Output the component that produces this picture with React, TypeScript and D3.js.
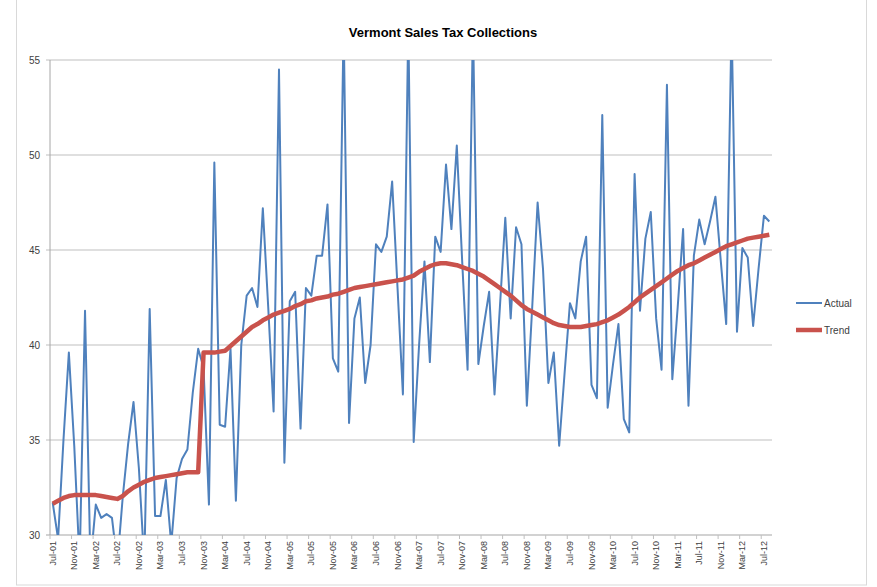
import React from 'react';
import * as d3 from 'd3';

// monthly collections, Jul-01 .. Aug-12 (values past 55 / under 30 are clipped like in Excel)
const actual = [
	31.7, 29.8, 35.0, 39.6, 34.7, 28.5, 41.8, 28.5, 31.6, 30.9, 31.1, 30.9, 28.5, 32.0, 34.8, 37.0,
	33.5, 28.5, 41.9, 31.0, 31.0, 32.9, 29.5, 33.0, 34.0, 34.5, 37.5, 39.8, 38.8, 31.6, 49.6, 35.8,
	35.7, 39.8, 31.8, 40.0, 42.6, 43.0, 42.0, 47.2, 42.0, 36.5, 54.5, 33.8, 42.3, 42.8, 35.6, 43.0,
	42.6, 44.7, 44.7, 47.4, 39.3, 38.6, 57.0, 35.9, 41.4, 42.5, 38.0, 40.0, 45.3, 44.9, 45.7, 48.6,
	43.0, 37.4, 57.0, 34.9, 40.0, 44.4, 39.1, 45.7, 44.9, 49.5, 46.1, 50.5, 44.4, 38.7, 57.0, 39.0,
	41.0, 42.8, 37.4, 42.0, 46.7, 41.4, 46.2, 45.3, 36.8, 42.0, 47.5, 44.0, 38.0, 39.6, 34.7, 38.5,
	42.2, 41.4, 44.4, 45.7, 37.9, 37.2, 52.1, 36.7, 39.0, 41.1, 36.1, 35.4, 49.0, 41.8, 45.6, 47.0,
	41.4, 38.7, 53.7, 38.2, 42.0, 46.1, 36.8, 44.7, 46.6, 45.3, 46.5, 47.8, 44.4, 41.1, 57.0, 40.7,
	45.1, 44.6, 41.0, 44.0, 46.8, 46.5,
];

const trend = [
	31.65, 31.8, 31.95, 32.05, 32.1, 32.1, 32.1, 32.1, 32.1, 32.05, 32.0, 31.95, 31.9, 32.05, 32.3, 32.5,
	32.65, 32.8, 32.9, 33.0, 33.05, 33.1, 33.15, 33.2, 33.25, 33.3, 33.3, 33.3, 39.6, 39.6, 39.6, 39.65,
	39.7, 39.95, 40.2, 40.45, 40.7, 40.95, 41.1, 41.3, 41.45, 41.6, 41.7, 41.8, 41.9, 42.05, 42.15, 42.3,
	42.35, 42.45, 42.5, 42.55, 42.65, 42.7, 42.8, 42.9, 43.0, 43.05, 43.1, 43.15, 43.2, 43.25, 43.3, 43.35,
	43.4, 43.45, 43.55, 43.65, 43.85, 44.0, 44.15, 44.25, 44.3, 44.3, 44.25, 44.2, 44.1, 44.0, 43.9, 43.75,
	43.6, 43.4, 43.2, 43.0, 42.8, 42.6, 42.35, 42.1, 41.9, 41.75, 41.6, 41.45, 41.3, 41.15, 41.05, 41.0,
	40.95, 40.95, 40.95, 41.0, 41.05, 41.1, 41.2, 41.3, 41.45, 41.6, 41.8, 42.0, 42.25, 42.5, 42.7, 42.9,
	43.1, 43.3, 43.5, 43.7, 43.9, 44.05, 44.2, 44.3, 44.45, 44.6, 44.75, 44.9, 45.05, 45.2, 45.3, 45.4,
	45.5, 45.6, 45.65, 45.7, 45.75, 45.8,
];

const tickLabels = [
	'Jul-01', 'Nov-01', 'Mar-02', 'Jul-02', 'Nov-02', 'Mar-03', 'Jul-03', 'Nov-03', 'Mar-04', 'Jul-04',
	'Nov-04', 'Mar-05', 'Jul-05', 'Nov-05', 'Mar-06', 'Jul-06', 'Nov-06', 'Mar-07', 'Jul-07', 'Nov-07',
	'Mar-08', 'Jul-08', 'Nov-08', 'Mar-09', 'Jul-09', 'Nov-09', 'Mar-10', 'Jul-10', 'Nov-10', 'Mar-11',
	'Jul-11', 'Nov-11', 'Mar-12', 'Jul-12',
];

const yTicks = [30, 35, 40, 45, 50, 55];

const W = 877;
const H = 587;
const left = 50;
const right = 772;
const top = 60;
const bottom = 535;

const font = '"Liberation Sans", Arial, sans-serif';

const App: React.FC = () => {
	const categories = d3
		.timeMonth.range(new Date(2001, 6, 1), new Date(2001, 6 + actual.length, 1))
		.map(d3.timeFormat('%b-%y'));

	const x = d3.scaleBand<string>().domain(categories).range([left, right]);
	const y = d3.scaleLinear().domain([30, 55]).range([bottom, top]);
	const cx = (i: number) => (x(categories[i]) ?? 0) + x.bandwidth() / 2;

	const line = d3
		.line<number>()
		.x((_, i) => cx(i))
		.y((d) => y(d));

	const ticks = tickLabels.map((t) => categories.indexOf(t)).filter((i) => i >= 0);

	return (
		<svg width={W} height={H} style={{ position: 'absolute', left: 0, top: 0, background: '#fff' }}>
			<defs>
				<clipPath id='plot'>
					<rect x={left} y={top} width={right - left} height={bottom - top} />
				</clipPath>
			</defs>
			<rect x={16.5} y={-2} width={850} height={587} fill='#fff' stroke='#d9d9d9' />

			<text x={443} y={37} textAnchor='middle' fontFamily={font} fontWeight='bold' fontSize={13} fill='#000'>
				Vermont Sales Tax Collections
			</text>

			{/* gridlines + y axis */}
			{yTicks.map((t) => (
				<g key={t}>
					<line x1={left - 4} x2={right} y1={y(t)} y2={y(t)} stroke={t === 30 ? '#a6a6a6' : '#bfbfbf'} strokeWidth={1.2} />
					<text x={40} y={y(t) + 3.5} textAnchor='end' fontFamily={font} fontSize={10} fill='#404040'>
						{t}
					</text>
				</g>
			))}
			<line x1={left} x2={left} y1={top} y2={bottom} stroke='#a6a6a6' />

			{/* x axis labels */}
			{ticks.map((i) => (
				<g key={i}>
					<line x1={x(categories[i])!} x2={x(categories[i])!} y1={bottom} y2={bottom + 4} stroke='#bfbfbf' />
					<text
						transform={`translate(${cx(i) + 3},${bottom + 6}) rotate(-90)`}
						textAnchor='end'
						fontFamily={font}
						fontSize={9}
						fill='#404040'
					>
						{categories[i]}
					</text>
				</g>
			))}

			<g clipPath='url(#plot)'>
				<path d={line(actual) ?? ''} fill='none' stroke='#4f81bd' strokeWidth={2} strokeLinejoin='round' />
				<path d={line(trend) ?? ''} fill='none' stroke='#c9524c' strokeWidth={4.5} strokeLinejoin='round' />
			</g>

			{/* legend */}
			<line x1={796} x2={822} y1={303} y2={303} stroke='#4f81bd' strokeWidth={2} />
			<text x={824} y={307} fontFamily={font} fontSize={10} fill='#404040'>
				Actual
			</text>
			<line x1={796} x2={822} y1={330} y2={330} stroke='#c9524c' strokeWidth={4.5} />
			<text x={824} y={334} fontFamily={font} fontSize={10} fill='#404040'>
				Trend
			</text>
		</svg>
	);
};

export default App;
